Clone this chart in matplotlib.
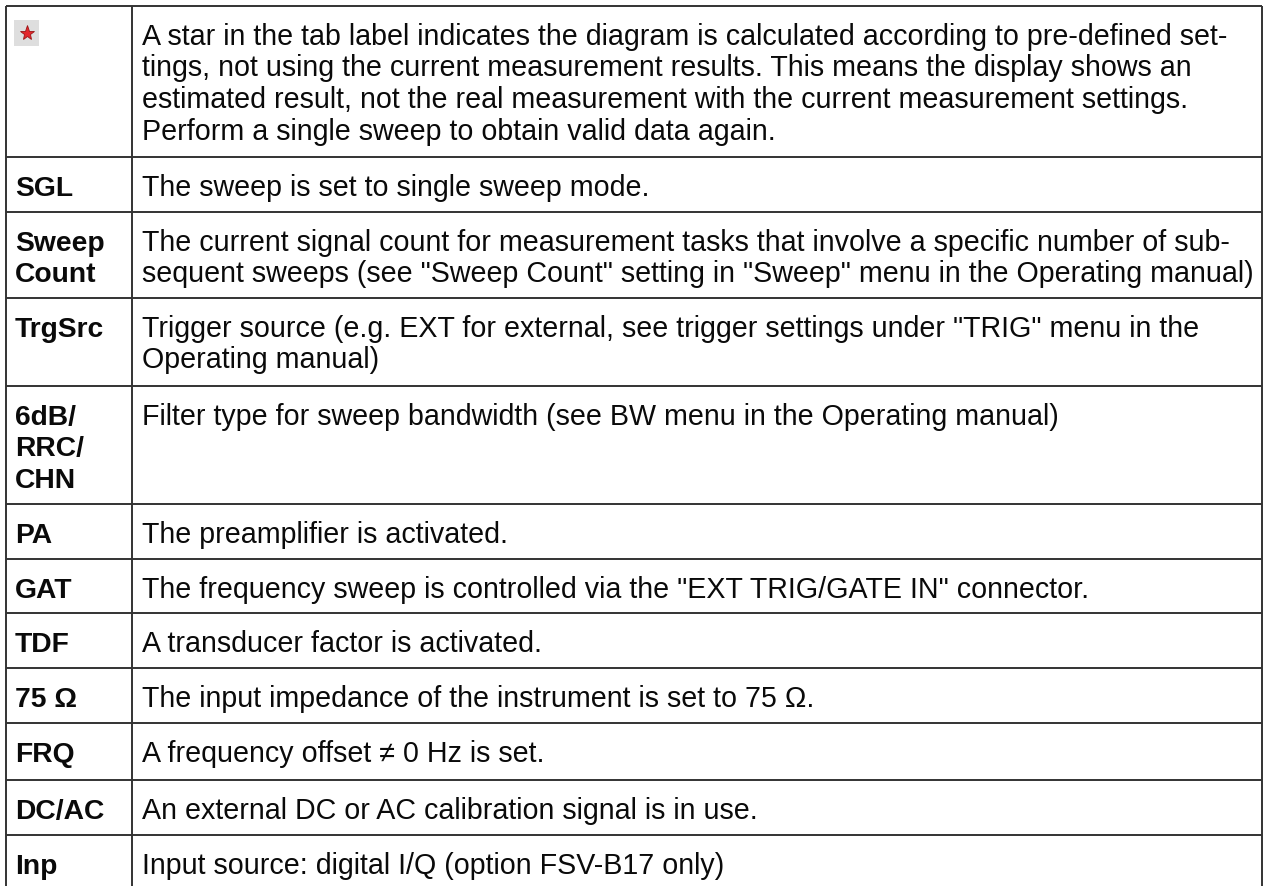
import matplotlib
matplotlib.use("Agg")
import matplotlib.pyplot as plt
from matplotlib.patches import Rectangle

# labels of the left column ("*" = star icon)
labels = [
    "*",
    "SGL",
    "Sweep\nCount",
    "TrgSrc",
    "6dB/\nRRC/\nCHN",
    "PA",
    "GAT",
    "TDF",
    "75 \u03a9",
    "FRQ",
    "DC/AC",
    "Inp",
]

# descriptions, already wrapped as in the original
descriptions = [
    "A star in the tab label indicates the diagram is calculated according to pre-defined set-\n"
    "tings, not using the current measurement results. This means the display shows an\n"
    "estimated result, not the real measurement with the current measurement settings.\n"
    "Perform a single sweep to obtain valid data again.",
    "The sweep is set to single sweep mode.",
    "The current signal count for measurement tasks that involve a specific number of sub-\n"
    "sequent sweeps (see \"Sweep Count\" setting in \"Sweep\" menu in the Operating manual)",
    "Trigger source (e.g. EXT for external, see trigger settings under \"TRIG\" menu in the\n"
    "Operating manual)",
    "Filter type for sweep bandwidth (see BW menu in the Operating manual)",
    "The preamplifier is activated.",
    "The frequency sweep is controlled via the \"EXT TRIG/GATE IN\" connector.",
    "A transducer factor is activated.",
    "The input impedance of the instrument is set to 75 \u03a9.",
    "A frequency offset \u2260 0 Hz is set.",
    "An external DC or AC calibration signal is in use.",
    "Input source: digital I/Q (option FSV-B17 only)",
]

# row boundaries in pixels (top of each row, plus bottom of the last)
row_edges = [7, 158, 213, 299, 387, 505, 560, 614, 669, 724, 781, 836, 893]

W, H = 1263, 887
x_left, x_div, x_right = 6, 132, 1262
line_step = 31.5
first_base = 38
fs = 20.6
ink = "#0a0a0a"
grid = "#333333"

fig = plt.figure(figsize=(W / 100, H / 100), dpi=100)
ax = fig.add_axes([0, 0, 1, 1])
ax.set_xlim(0, W)
ax.set_ylim(H, 0)
ax.set_axis_off()

# grid lines
for y in row_edges[:-1]:
    ax.plot([x_left, x_right], [y, y], color=grid, lw=1.4, solid_capstyle="butt")
for x in (x_left, x_div, x_right):
    ax.plot([x, x], [row_edges[0], row_edges[-1]], color=grid, lw=1.4, solid_capstyle="butt")

for i, (lab, desc) in enumerate(zip(labels, descriptions)):
    top = row_edges[i]
    if lab == "*":
        ax.add_patch(Rectangle((14, 21), 25, 26, facecolor="#dedede", edgecolor="none"))
        ax.plot(26.5, 34, marker="*", markersize=11, color="#e3262b",
                markeredgecolor="#9a1515", markeredgewidth=0.6)
    else:
        for k, ln in enumerate(lab.split("\n")):
            ax.text(15, top + first_base + k * line_step, ln, fontsize=fs - 0.3,
                    fontweight="bold", family="Liberation Sans", color=ink,
                    va="baseline", ha="left")
    for k, ln in enumerate(desc.split("\n")):
        ax.text(142, top + first_base + k * line_step, ln, fontsize=fs,
                family="Liberation Sans", color=ink, va="baseline", ha="left")

fig.savefig("out.png", dpi=100, facecolor="white")
